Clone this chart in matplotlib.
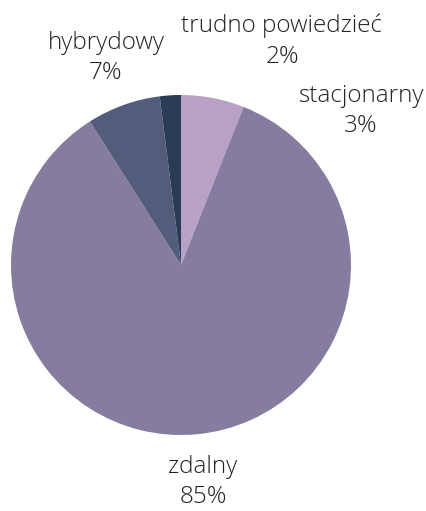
import matplotlib.pyplot as plt

# slice order: clockwise from 12 o'clock
categories = ['stacjonarny', 'zdalny', 'hybrydowy', 'trudno powiedzieć']
values = [6, 85, 7, 2]
pct_labels = ['3%', '85%', '7%', '2%']
colors = ['#BBA0C6', '#857CA0', '#545C7C', '#2A3B55']

# label centres in pixels (x, y from top)
label_px = [(361, 111), (203, 482), (106, 58), (282, 41)]

W, H = 427, 511
cx, cy, r = 181, 265, 170

plt.rcParams['font.family'] = ['Open Sans', 'DejaVu Sans']

fig = plt.figure(figsize=(W / 100, H / 100), dpi=100)
ax = fig.add_axes([(cx - r) / W, (H - cy - r) / H, 2 * r / W, 2 * r / H])
ax.pie(values, colors=colors, startangle=90, counterclock=False, radius=1,
       wedgeprops=dict(linewidth=0.5, edgecolor='none'))
ax.set_xlim(-1, 1)
ax.set_ylim(-1, 1)
ax.set_aspect('equal')
ax.axis('off')

for cat, pct, (px, py) in zip(categories, pct_labels, label_px):
    x = (px - cx) / r
    y = (cy - py) / r
    ax.text(x, y, cat + '\n' + pct, ha='center', va='center', fontsize=17.5,
            fontweight='light', color='#222222', linespacing=1.38, clip_on=False)

fig.savefig('out.png', dpi=100)
